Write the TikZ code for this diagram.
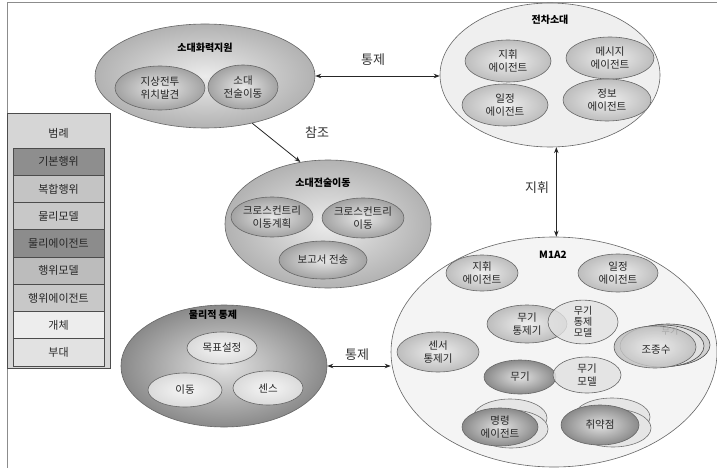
\documentclass[tikz,border=0pt]{standalone}
\usepackage{fontspec}
\setmainfont{Noto Sans CJK KR}
\usetikzlibrary{shapes.geometric,arrows.meta}
\definecolor{cUnit}{HTML}{EFEFEF}
\definecolor{cEnt}{HTML}{F4F4F4}
\definecolor{cComp}{HTML}{B2B2B2}
\definecolor{cInA}{HTML}{A2A2A2}
\definecolor{cAgent}{HTML}{BDBDBD}
\definecolor{cDark}{HTML}{8A8A8A}
\definecolor{cLight}{HTML}{DADADA}
\definecolor{cModel}{HTML}{E2E2E2}
\definecolor{lgBasic}{HTML}{8E8E8E}
\definecolor{lgComp}{HTML}{C4C4C4}
\definecolor{lgPM}{HTML}{C8C8C8}
\definecolor{lgPA}{HTML}{8C8C8C}
\definecolor{lgBM}{HTML}{BCBCBC}
\definecolor{lgBA}{HTML}{C8C8C8}
\definecolor{lgEnt}{HTML}{EDEDED}
\definecolor{lgUnit}{HTML}{E2E2E2}
\definecolor{lgBg}{HTML}{D6D6D6}
\begin{document}
\begin{tikzpicture}[x=1pt,y=-1pt,
  el/.style={ellipse, draw=black!60, line width=0.6pt, inner sep=0pt, align=center,
             font=\fontsize{10.5}{12.5}\selectfont, text=black!85},
  shd/.style={inner color=#1!25!white, outer color=#1},
  ttl/.style={font=\bfseries\fontsize{10}{12}\selectfont, inner sep=1pt},
  lbl/.style={font=\fontsize{13}{15}\selectfont, inner sep=1pt, text=black!80},
  arr/.style={-{Stealth[length=6pt,width=4.5pt]}, line width=0.8pt, black!85},
  darr/.style={{Stealth[length=6pt,width=4.5pt]}-{Stealth[length=6pt,width=4.5pt]}, line width=0.8pt, black!85},
  leg/.style={draw=black!70, line width=0.6pt, minimum width=91pt, minimum height=27.25pt,
              inner sep=0pt, font=\fontsize{11}{13}\selectfont, text=black!85},
]
\fill[white] (0,0) rectangle (717,468);
\useasboundingbox (0,0) rectangle (717,468);
\draw[black!45, line width=1pt] (7,468) -- (7,3) -- (717,3);

% ---- 소대화력지원
\node[el, shd=cComp, minimum width=220pt, minimum height=104pt] (fire) at (205,76) {};
\node[ttl] (fireT) at (205,48) {소대화력지원};
\node[el, shd=cInA, minimum width=90pt, minimum height=44pt] (fire1) at (160,88) {지상전투\\위치발견};
\node[el, shd=cInA, minimum width=70pt, minimum height=44pt] (fire2) at (243,87) {소대\\전술이동};

% ---- 전차소대
\node[el, fill=cUnit, minimum width=220pt, minimum height=144pt] (platoon) at (550,75) {};
\node[ttl] (platoonT) at (550,20) {전차소대};
\node[el, shd=cAgent, minimum width=86pt, minimum height=42pt] (pl1) at (508,61) {지휘\\에이전트};
\node[el, shd=cAgent, minimum width=88pt, minimum height=42pt] (pl2) at (610,58) {메시지\\에이전트};
\node[el, shd=cAgent, minimum width=86pt, minimum height=42pt] (pl3) at (505,105) {일정\\에이전트};
\node[el, shd=cAgent, minimum width=88pt, minimum height=42pt] (pl4) at (607,100) {정보\\에이전트};

% ---- 소대전술이동
\node[el, shd=cComp, minimum width=206pt, minimum height=128pt] (tactic) at (328,224) {};
\node[ttl] (tacticT) at (323,183) {소대전술이동};
\node[el, shd=cInA, minimum width=78pt, minimum height=40pt] (tc1) at (272,217) {크로스컨트리\\이동계획};
\node[el, shd=cInA, minimum width=76pt, minimum height=40pt] (tc2) at (363,218) {크로스컨트리\\이동};
\node[el, shd=cInA, minimum width=88pt, minimum height=38pt] (tc3) at (323,260) {보고서 전송};

% ---- 물리적 통제
\node[el, shd=cDark, minimum width=206pt, minimum height=122pt] (phys) at (224,366) {};
\node[ttl] (physT) at (213,315) {물리적 통제};
\node[el, shd=cLight, minimum width=70pt, minimum height=32pt] (ph1) at (222,348) {목표설정};
\node[el, shd=cLight, minimum width=74pt, minimum height=34pt] (ph2) at (185,390) {이동};
\node[el, shd=cLight, minimum width=70pt, minimum height=34pt] (ph3) at (268,388) {센스};

% ---- M1A2
\node[el, fill=cEnt, minimum width=326pt, minimum height=230pt] (m1a2) at (554,352) {};
\node[ttl] (m1a2T) at (553,255) {M1A2};
\node[el, shd=cAgent, minimum width=72pt, minimum height=36pt] (m1) at (482,273) {지휘\\에이전트};
\node[el, shd=cAgent, minimum width=80pt, minimum height=38pt] (m2) at (618,273) {일정\\에이전트};
\node[el, shd=cAgent, minimum width=80pt, minimum height=38pt] (m3) at (527,324) {무기\\통제기};
\node[el, fill=cModel, fill opacity=0.8, text opacity=1, minimum width=70pt, minimum height=38pt,
      font=\fontsize{10}{11}\selectfont] (m4) at (583,322) {무기\\통제\\모델};
\node[el, shd=cAgent, minimum width=82pt, minimum height=40pt] (m5) at (438,352) {센서\\통제기};
% 조종수 stack
\node[el, fill=black!18, draw=black!70, minimum width=84pt, minimum height=42pt] (m6c) at (668,345) {};
\node[el, fill=black!12, draw=black!70, minimum width=84pt, minimum height=42pt] (m6b) at (662,346) {};
\node[el, shd=cAgent, fill opacity=0.85, text opacity=1, minimum width=82pt, minimum height=42pt] (m6) at (655,347) {};
\node[font=\fontsize{9}{10}\selectfont, text=black!35, inner sep=0pt] (m6w) at (670,331) {무기};
\node[font=\fontsize{10.5}{12.5}\selectfont, text=black!85, inner sep=0pt] (m6t) at (656,350) {조종수};
% 무기 / 무기 모델
\node[el, shd=cDark, minimum width=72pt, minimum height=34pt] (m7) at (520,377) {무기};
\node[el, fill=cModel, fill opacity=0.85, text opacity=1, minimum width=68pt, minimum height=36pt] (m8) at (587,375) {무기\\모델};
% 명령 에이전트 stack
\node[el, fill=black!10, draw=black!55, minimum width=74pt, minimum height=38pt] (m9b) at (510,418) {};
\node[el, fill=black!10, draw=black!55, minimum width=74pt, minimum height=38pt] (m9c) at (511,429) {};
\node[el, shd=cDark, minimum width=76pt, minimum height=38pt] (m9) at (500,427) {명령\\에이전트};
% 취약점 stack
\node[el, fill=black!10, draw=black!55, minimum width=76pt, minimum height=38pt] (m10b) at (612,417) {};
\node[el, fill=black!10, draw=black!55, minimum width=76pt, minimum height=38pt] (m10c) at (613,428) {};
\node[el, shd=cDark, minimum width=78pt, minimum height=40pt] (m10) at (600,425) {취약점};

% ---- connectors
\draw[darr] (fire.east) -- (fire.east -| platoon.west);
\node[lbl] (l1) at (373,60) {통제};
\draw[arr] (fire.-45) -- (tactic.114);
\node[lbl] (l2) at (317,133) {참조};
\draw[darr] (platoon.-85) -- (platoon.-85 |- m1a2.north);
\node[lbl] (l3) at (537,188) {지휘};
\draw[darr] (phys.east) -- (phys.east -| m1a2.west);
\node[lbl] (l4) at (357,355) {통제};

% ---- legend
\node[draw=black!70, line width=0.8pt, fill=lgBg, minimum width=103pt, minimum height=255pt, inner sep=0pt] (legend) at (58.5,240.5) {};
\node[font=\fontsize{11}{13}\selectfont, text=black!85] (lgT) at (58.5,133) {범례};
\node[leg, fill=lgBasic] (lg1) at (58.5,161.6) {기본행위};
\node[leg, fill=lgComp] (lg2) at (58.5,188.9) {복합행위};
\node[leg, fill=lgPM] (lg3) at (58.5,216.1) {물리모델};
\node[leg, fill=lgPA] (lg4) at (58.5,243.4) {물리에이전트};
\node[leg, fill=lgBM] (lg5) at (58.5,270.6) {행위모델};
\node[leg, fill=lgBA] (lg6) at (58.5,297.9) {행위에이전트};
\node[leg, fill=lgEnt] (lg7) at (58.5,325.1) {개체};
\node[leg, fill=lgUnit] (lg8) at (58.5,352.4) {부대};
\end{tikzpicture}
\end{document}
